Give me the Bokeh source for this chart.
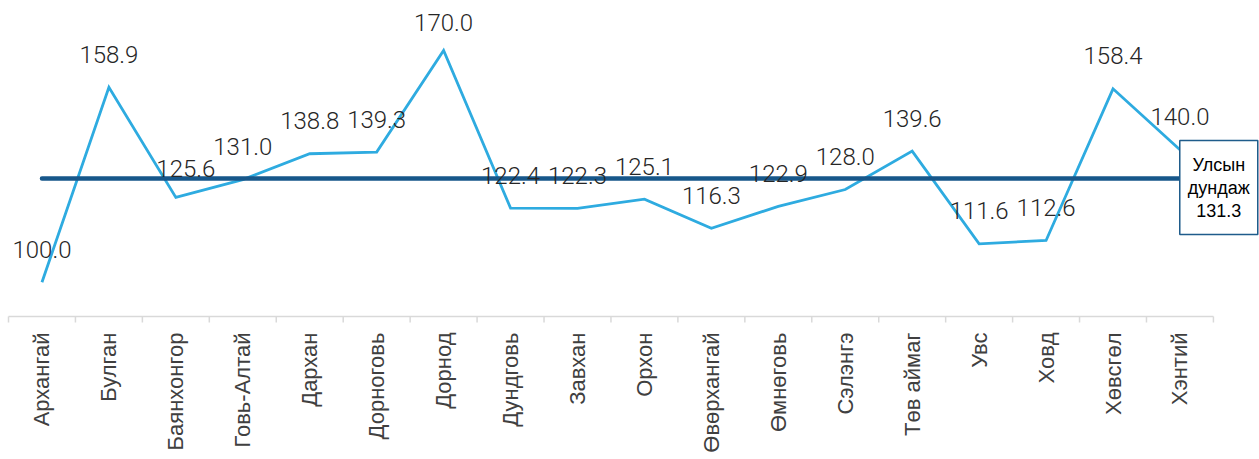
import math
from bokeh.plotting import figure
from bokeh.models import Range1d, Label, ColumnDataSource
from bokeh.core.properties import value
from bokeh.embed import file_html
from bokeh.resources import INLINE

# ---- data ----
categories = ["Архангай", "Булган", "Баянхонгор", "Говь-Алтай", "Дархан", "Дорноговь",
              "Дорнод", "Дундговь", "Завхан", "Орхон", "Өвөрхангай", "Өмнөговь",
              "Сэлэнгэ", "Төв аймаг", "Увс", "Ховд", "Хөвсгөл", "Хэнтий"]
values = [100.0, 158.9, 125.6, 131.0, 138.8, 139.3, 170.0, 122.4, 122.3, 125.1,
          116.3, 122.9, 128.0, 139.6, 111.6, 112.6, 158.4, 140.0]
average = 131.3
average_title = "Улсын\nдундаж"

# ---- layout constants ----
W, H = 1259, 459
n = len(categories)
x0_px = 8                      # canvas column where the first category starts
cat_px = 66.94                 # pixel width of one category
px_per_unit = 3.311            # pixels per value unit
ref_val, ref_px = 100.0, 281.7 # value 100 sits at this canvas pixel row
axis_px = 316                  # canvas row of the category axis line

def val_at(px):
    return ref_val + (ref_px - px) / px_per_unit

x_start = -x0_px / cat_px
x_end = (W - x0_px) / cat_px
y_top, y_bot = val_at(0), val_at(H)
axis_base = val_at(axis_px)

p = figure(width=W, height=H, output_backend="svg", toolbar_location=None,
           x_range=Range1d(x_start, x_end), y_range=Range1d(y_bot, y_top),
           min_border=0, min_border_left=0, min_border_right=0,
           min_border_top=0, min_border_bottom=0)
p.xaxis.visible = False
p.yaxis.visible = False
p.xgrid.visible = False
p.ygrid.visible = False
p.outline_line_color = None
p.background_fill_color = "white"
p.border_fill_color = "white"

centers = [i + 0.5 for i in range(n)]

# category axis line and boundary ticks
p.segment(x0=[0], y0=[axis_base], x1=[n], y1=[axis_base],
          line_color="#D9D9D9", line_width=1.5)
bounds = list(range(n + 1))
p.segment(x0=bounds, y0=[axis_base] * (n + 1), x1=bounds,
          y1=[axis_base - 6 / px_per_unit] * (n + 1),
          line_color="#D9D9D9", line_width=1.5)

# category labels (rotated)
p.text(x=centers, y=[axis_base] * n, text=categories, angle=math.pi / 2,
       text_align="right", text_baseline="middle", y_offset=16,
       text_font=value("Liberation Sans"), text_font_size="22px",
       text_color="#404040")

# series line
p.line(x=centers, y=values, line_color="#2EABE0", line_width=2.8,
       line_join="miter")

# average line
p.line(x=centers, y=[average] * n, line_color="#17578A", line_width=4.5,
       line_cap="round")

# data labels (a couple of labels were nudged in the original)
dx = [0] * n
dy = [-33] * n
dx[2], dy[2] = 10, -29
dy[6] = -28
lab_src = ColumnDataSource(dict(x=centers, y=values,
                                t=[f"{v:.1f}" for v in values], dx=dx, dy=dy))
p.text(x="x", y="y", text="t", x_offset="dx", y_offset="dy", source=lab_src,
       text_align="center", text_baseline="middle",
       text_font=value("Roboto Light"), text_font_size="24px", text_color="#262626")

# average callout box
box = Label(x=n + 0.08, y=average, y_offset=-9, text=f"{average_title}\n{average:.1f}",
            text_align="center", text_baseline="middle",
            text_font="Liberation Sans", text_font_size="18px", text_color="#000000",
            text_line_height=1.15,
            background_fill_color="white", border_line_color="#1F5C8B",
            border_line_width=1.5,
            padding=dict(left=8, right=8, top=14, bottom=14))
p.add_layout(box)

open("out.html", "w").write(file_html(p, INLINE))
